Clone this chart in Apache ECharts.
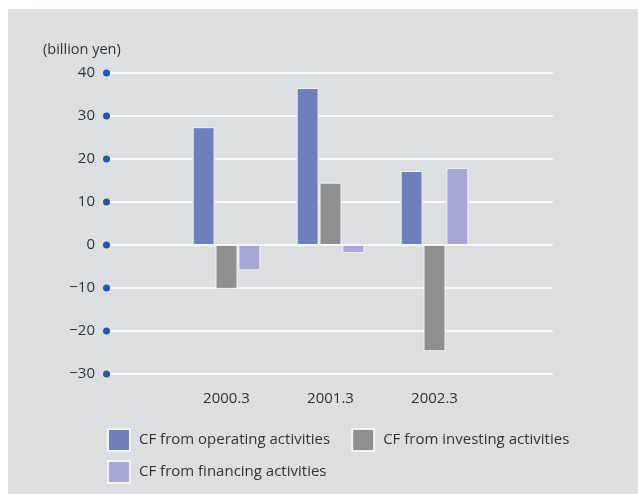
<!DOCTYPE html>
<html>
<head>
<meta charset="utf-8">
<script src="https://cdn.jsdelivr.net/npm/echarts@6/dist/echarts.min.js"></script>
<style>
  html, body { margin: 0; padding: 0; background: #ffffff; }
  #panel { position: absolute; left: 8px; top: 9px; width: 630px; height: 485px; background: #dcdfe2; }
  #chart { position: absolute; left: 0; top: 0; width: 638px; height: 494px; }
</style>
</head>
<body>
<div id="panel"></div>
<div id="chart"></div>
<script>
// Fiscal year ends (March)
const categories = ['2000.3', '2001.3', '2002.3'];

// Cash flows, billion yen
const operatingCF = [27.4, 36.5, 17.2];
const investingCF = [-10.2, 14.5, -24.7];
const financingCF = [-5.9, -1.9, 17.9];

// Value-axis tick labels, top to bottom
const tickValues = [40, 30, 20, 10, 0, -10, -20, -30];
const tickLabels = ['40', '30', '20', '10', '0', '\u221210', '\u221220', '\u221230'];

const seriesNames = [
  'CF from operating activities',
  'CF from investing activities',
  'CF from financing activities'
];
const colors = ['#6f7fba', '#8f8f8f', '#a5a8d4'];

const FONT = '"Open Sans", sans-serif';
const TEXT = '#333333';

const chart = echarts.init(document.getElementById('chart'), null, { renderer: 'canvas' });

const barStyle = (c) => ({ color: c, borderColor: '#f2f3f8', borderWidth: 1 });
const legendText = { fontFamily: FONT, fontSize: 15, color: TEXT, padding: [0, 0, 0, 4] };

chart.setOption({
  backgroundColor: 'transparent',
  animation: false,
  textStyle: { fontFamily: FONT, color: TEXT },
  title: {
    text: '(billion yen)',
    left: 38, top: 37,
    textStyle: { fontFamily: FONT, fontSize: 14.5, fontWeight: 'normal', color: TEXT }
  },
  grid: [
    // full-width grid carrying the scale and horizontal rules
    { left: 110, top: 73, width: 443, height: 301 },
    // bar area
    { left: 174.5, top: 73, width: 312, height: 301 }
  ],
  xAxis: [
    { gridIndex: 0, type: 'value', min: 0, max: 1, show: false },
    {
      gridIndex: 1, type: 'category', data: categories,
      axisLine: { show: false }, axisTick: { show: false },
      axisLabel: { margin: 17, fontFamily: FONT, fontSize: 15, color: TEXT }
    }
  ],
  yAxis: [
    {
      gridIndex: 0, type: 'value', min: -30, max: 40, interval: 10,
      axisLine: { show: false }, axisTick: { show: false },
      splitLine: { show: true, lineStyle: { color: '#ffffff', width: 1.5 } },
      axisLabel: {
        margin: 0,
        formatter: (v) => {
          const i = tickValues.indexOf(v);
          return '{v|' + (i >= 0 ? tickLabels[i] : v) + '}{s|}{d|}';
        },
        rich: {
          v: { fontFamily: FONT, fontSize: 15, color: TEXT },
          s: { width: 8 },
          d: { width: 7, height: 7, borderRadius: 3.5, backgroundColor: '#2a55a5' }
        }
      }
    },
    {
      gridIndex: 1, type: 'value', min: -30, max: 40, interval: 10,
      show: false, splitLine: { show: false }
    }
  ],
  legend: [
    {
      data: seriesNames.slice(0, 2),
      left: 102, top: 423, itemWidth: 22, itemHeight: 22, itemGap: 21,
      icon: 'rect',
      textStyle: legendText
    },
    {
      data: seriesNames.slice(2),
      left: 102, top: 455, itemWidth: 22, itemHeight: 22,
      icon: 'rect',
      textStyle: legendText
    }
  ],
  series: [
    {
      name: seriesNames[0], type: 'bar', xAxisIndex: 1, yAxisIndex: 1,
      data: operatingCF, barWidth: 22, barGap: '4%', itemStyle: barStyle(colors[0])
    },
    {
      name: seriesNames[1], type: 'bar', xAxisIndex: 1, yAxisIndex: 1,
      data: investingCF, barWidth: 22, barGap: '4%', itemStyle: barStyle(colors[1])
    },
    {
      name: seriesNames[2], type: 'bar', xAxisIndex: 1, yAxisIndex: 1,
      data: financingCF, barWidth: 22, barGap: '4%', itemStyle: barStyle(colors[2])
    }
  ]
});
</script>
</body>
</html>
